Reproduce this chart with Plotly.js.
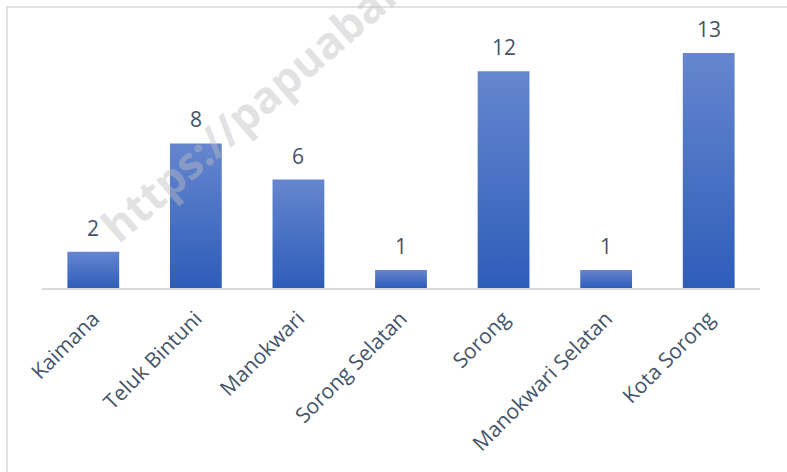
<!DOCTYPE html>
<html>
<head>
<meta charset="utf-8">
<script src="https://cdn.plot.ly/plotly-3.0.1.min.js"></script>
<style>
html,body{margin:0;padding:0;background:#fff;}
#chart{width:787px;height:472px;}
</style>
</head>
<body>
<div id="chart"></div>
<script>
const categories = ["Kaimana", "Teluk Bintuni", "Manokwari", "Sorong Selatan", "Sorong", "Manokwari Selatan", "Kota Sorong"];
const values = [2, 8, 6, 1, 12, 1, 13];
const watermarkText = "https://papuabaratnews.co";

const labelColor = "#44546a";
const fontFam = "'Open Sans', 'Noto Sans', sans-serif";

const trace = {
  type: "bar",
  x: categories,
  y: values,
  marker: {color: "#4472c4", line: {width: 0}},
  hoverinfo: "none"
};

const annotations = categories.map((c, i) => ({
  x: c, y: values[i], xref: "x", yref: "y",
  text: String(values[i]),
  showarrow: false,
  yanchor: "bottom",
  yshift: 8,
  font: {family: fontFam, size: 21, color: labelColor}
}));

annotations.push({
  xref: "paper", yref: "paper",
  x: 0.407, y: 0.944,
  xanchor: "center", yanchor: "middle",
  text: "<b>" + watermarkText + "</b>",
  textangle: -41,
  showarrow: false,
  font: {family: fontFam, size: 44, color: "rgba(190,190,190,0.45)"}
});

const layout = {
  width: 787, height: 472,
  margin: {l: 42, r: 27, t: 20, b: 184},
  paper_bgcolor: "#ffffff",
  plot_bgcolor: "#ffffff",
  showlegend: false,
  bargap: 0.495,
  xaxis: {
    type: "category",
    tickangle: -45,
    showline: true, linecolor: "#d9d9d9", linewidth: 2,
    showgrid: false, zeroline: false,
    ticks: "",
    ticklabelstandoff: 8,
    tickfont: {family: fontFam, size: 21, color: labelColor}
  },
  yaxis: {
    range: [0, 14.83],
    visible: false,
    showgrid: false, zeroline: false
  },
  shapes: [{
    type: "rect", xref: "paper", yref: "paper",
    x0: -0.0487, x1: 1.06, y0: -0.72, y1: 1.0485,
    line: {color: "#d9d9d9", width: 1.5},
    layer: "below"
  }],
  annotations: annotations
};

const gd = document.getElementById("chart");
function applyGradient() {
  const svg = gd.querySelector(".main-svg");
  if (!svg) return;
  const ns = "http://www.w3.org/2000/svg";
  let defs = svg.querySelector("defs");
  if (!defs) { defs = document.createElementNS(ns, "defs"); svg.insertBefore(defs, svg.firstChild); }
  if (!svg.querySelector("#barGrad")) {
    const lg = document.createElementNS(ns, "linearGradient");
    lg.setAttribute("id", "barGrad");
    lg.setAttribute("x1", "0"); lg.setAttribute("y1", "0");
    lg.setAttribute("x2", "0"); lg.setAttribute("y2", "1");
    const s1 = document.createElementNS(ns, "stop");
    s1.setAttribute("offset", "0"); s1.setAttribute("stop-color", "#6686cf");
    const s2 = document.createElementNS(ns, "stop");
    s2.setAttribute("offset", "1"); s2.setAttribute("stop-color", "#2e5db9");
    lg.appendChild(s1); lg.appendChild(s2);
    defs.appendChild(lg);
  }
  gd.querySelectorAll(".barlayer .point path").forEach(p => { p.style.fill = "url(#barGrad)"; });
}
Plotly.newPlot(gd, [trace], layout, {displayModeBar: false, staticPlot: true}).then(applyGradient);
gd.on && gd.on("plotly_afterplot", applyGradient);
</script>
</body>
</html>
